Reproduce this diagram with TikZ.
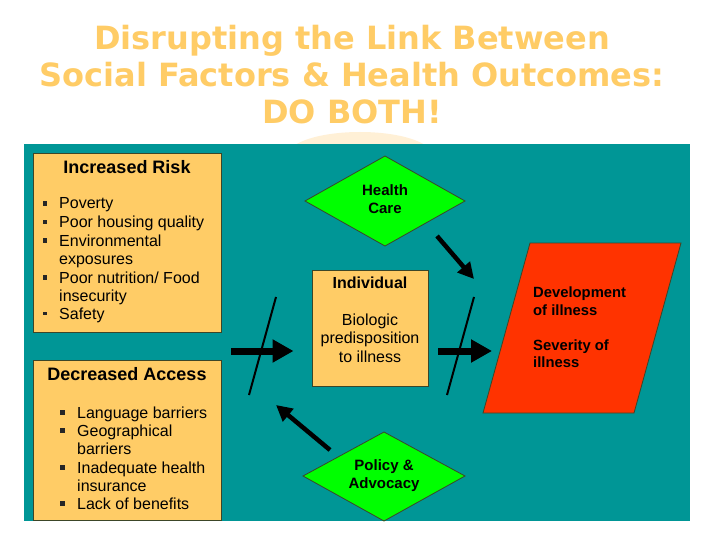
\documentclass[tikz,border=0pt]{standalone}
\usepackage{fontspec}
\setmainfont{Liberation Sans}
\newfontfamily\titlefont{DejaVu Sans}
\usetikzlibrary{arrows.meta}
\definecolor{teal1}{RGB}{0,150,150}
\definecolor{gold1}{RGB}{255,204,102}
\definecolor{pale}{RGB}{255,240,214}
\definecolor{green1}{RGB}{0,255,0}
\definecolor{red1}{RGB}{255,51,0}
\definecolor{edge}{RGB}{60,70,40}
\tikzset{x=1pt,y=-1pt,
 titletext/.style={font=\titlefont\bfseries\fontsize{32}{37}\selectfont,text=gold1,align=center,inner sep=0},
 box/.style={draw=edge,line width=.8pt,fill=gold1},
 head/.style={font=\bfseries\fontsize{18}{19}\selectfont,inner sep=0,anchor=base},
 body/.style={font=\fontsize{16}{18.3}\selectfont,inner sep=0,anchor=base west,align=left},
 dia/.style={draw=edge,line width=.8pt,fill=green1},
 dtext/.style={font=\bfseries\fontsize{15}{18}\selectfont,inner sep=0,align=center},
 bul/.style={fill=black!85,inner sep=0,minimum size=4.5pt},
 bigarrow/.style={line width=7pt,-{Triangle[width=22pt,length=21pt]}},
 smallarrow/.style={line width=4.5pt,-{Triangle[width=16pt,length=16pt]}},
 slash/.style={line width=2pt,black}}
\begin{document}
\begin{tikzpicture}
\useasboundingbox (0,0) rectangle (720,540);
\fill[white] (0,0) rectangle (720,540);
\fill[pale] (360,155) ellipse (72 and 23);
\node[titletext] (title) at (352,75) {Disrupting the Link Between\\Social Factors \& Health Outcomes:\\DO BOTH!};
\fill[teal1] (24,144) rectangle (690,521);
% boxes
\draw[box] (33,153) rectangle (221,332);
\draw[box] (33,360) rectangle (221,520);
\draw[box] (312,270) rectangle (428,386);
\node[head] (h1) at (127,173.5) {Increased Risk};
\node[head] (h2) at (127,380.5) {Decreased Access};
\foreach \t/\y/\b in {Poverty/209/1,Poor housing quality/227.5/1,Environmental/246/1,exposures/264.5/0,{Poor nutrition/ Food}/283/1,insecurity/301/0,Safety/319/2}{
 \node[body] at (59,\y) {\t};
 \ifnum\b=1 \node[bul] at (45,\y-5.5) {};\fi
 \ifnum\b=2 \node[bul,minimum size=3.5pt] at (45,\y-5.5) {};\fi
}
\foreach \t/\y/\b in {Language barriers/418/1,Geographical/436/1,barriers/454/0,Inadequate health/473/1,insurance/491/0,Lack of benefits/509/1}{
 \node[body] at (77,\y) {\t};
 \ifnum\b=1 \node[bul] at (62.5,\y-5.5) {};\fi
}
\node[font=\bfseries\fontsize{16}{18}\selectfont,inner sep=0,anchor=base] (ind) at (370,288.5) {Individual};
\node[font=\fontsize{16}{18.3}\selectfont,inner sep=0,align=center] (bio) at (370,338) {Biologic\\predisposition\\to illness};
% diamonds
\draw[dia] (385,156) -- (465,201) -- (385,246) -- (305,201) -- cycle;
\node[dtext] (hc) at (385,199) {Health\\Care};
\draw[dia] (384,432) -- (465,476) -- (384,521) -- (303,476) -- cycle;
\node[dtext] (pa) at (384,475.5) {Policy \&\\Advocacy};
% parallelogram
\draw[draw=edge,line width=.8pt,fill=red1] (530,243) -- (681,243) -- (634,413) -- (483,413) -- cycle;
\node[font=\bfseries\fontsize{14.8}{17.5}\selectfont,inner sep=0,anchor=north west,align=left] (dev) at (533,287) {Development\\of illness\\[17.5pt]Severity of\\illness};
% connectors
\coordinate (a1s) at (231,351); \coordinate (a1e) at (293.5,351);
\coordinate (a2s) at (438,351); \coordinate (a2e) at (492,351);
\coordinate (a3s) at (437,236); \coordinate (a3e) at (474,279);
\coordinate (a4s) at (330,450); \coordinate (a4e) at (276,405);
\coordinate (s1a) at (276,297); \coordinate (s1b) at (249,395);
\coordinate (s2a) at (474,297); \coordinate (s2b) at (447,395);
\draw[bigarrow] (a1s) -- (a1e);
\draw[bigarrow] (a2s) -- (a2e);
\draw[smallarrow] (a3s) -- (a3e);
\draw[smallarrow] (a4s) -- (a4e);
\draw[slash] (s1a) -- (s1b);
\draw[slash] (s2a) -- (s2b);
\end{tikzpicture}
\end{document}
